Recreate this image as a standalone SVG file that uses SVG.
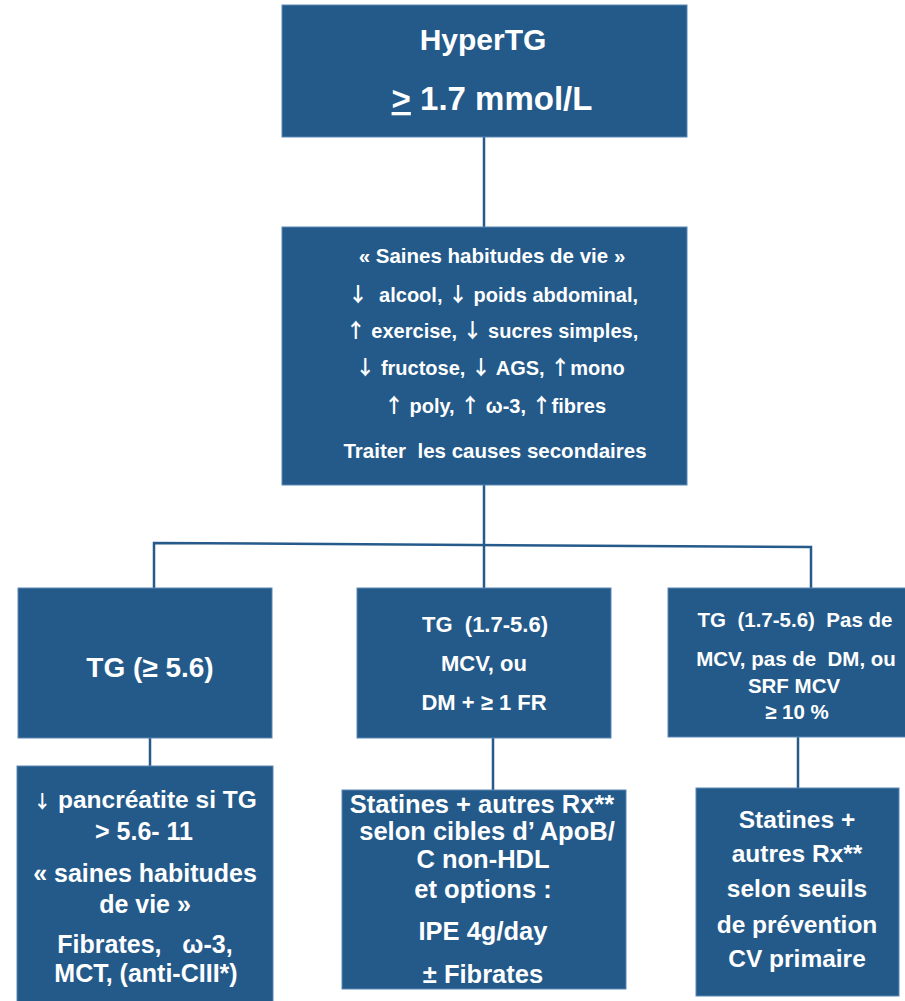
<svg xmlns="http://www.w3.org/2000/svg" width="905" height="1001" viewBox="0 0 905 1001">
<style>
.box{fill:#235a8a;stroke:#5b87b5;stroke-width:1}
.t{font-family:"Liberation Sans",Arial,sans-serif;font-weight:bold;fill:#ffffff;text-anchor:middle;white-space:pre}
.a{font-family:"Noto Sans CJK SC","DejaVu Sans",sans-serif;font-weight:bold}
.c{stroke:#255a8b;stroke-width:2.5;fill:none}
</style>
<rect width="905" height="1001" fill="#ffffff"/>
<g id="connectors">
<line class="c" x1="484" y1="137" x2="484" y2="228"/>
<line class="c" x1="484" y1="485" x2="484" y2="588"/>
<polyline class="c" points="154,588 154,543 811,547 811,588"/>
<line class="c" x1="150" y1="738" x2="150" y2="766"/>
<line class="c" x1="493" y1="738" x2="493" y2="790"/>
<line class="c" x1="798" y1="737" x2="798" y2="788"/>
</g>
<g id="n-hypertg">
<rect class="box" x="282" y="5" width="405" height="132"/>
<text class="t" x="483" y="50" font-size="30">HyperTG</text>
<text class="t" x="492" y="110" font-size="33"><tspan style="text-decoration:underline">&gt;</tspan> 1.7 mmol/L</text>
</g>
<g id="n-habitudes">
<rect class="box" x="282" y="227" width="405" height="258"/>
<text class="t" font-size="20.5" x="492" y="263">« Saines habitudes de vie »</text>
<text class="t" font-size="20" x="493" y="302"><tspan class="a">↓</tspan>  alcool, <tspan class="a">↓</tspan> poids abdominal,</text>
<text class="t" font-size="20" x="492" y="338"><tspan class="a">↑</tspan> exercise, <tspan class="a">↓</tspan> sucres simples,</text>
<text class="t" font-size="20" x="490" y="375"><tspan class="a">↓</tspan> fructose, <tspan class="a">↓</tspan> AGS, <tspan class="a">↑</tspan>mono</text>
<text class="t" font-size="20" x="495" y="413"><tspan class="a">↑</tspan> poly, <tspan class="a">↑</tspan> ω-3, <tspan class="a">↑</tspan>fibres</text>
<text class="t" font-size="20.5" x="495" y="458">Traiter  les causes secondaires</text>
</g>
<g id="n-tg-high">
<rect class="box" x="18" y="588" width="254" height="150"/>
<text class="t" font-size="28" x="150" y="677">TG (≥ 5.6)</text>
</g>
<g id="n-tg-mcv">
<rect class="box" x="357" y="588" width="254" height="150"/>
<text class="t" font-size="22" x="485" y="632">TG  (1.7-5.6)</text>
<text class="t" font-size="22" x="484" y="671">MCV, ou</text>
<text class="t" font-size="22" x="484" y="710">DM + ≥ 1 FR</text>
</g>
<g id="n-tg-nomcv">
<rect class="box" x="668" y="588" width="256" height="149"/>
<text class="t" font-size="20.5" x="795" y="627">TG  (1.7-5.6)  Pas de</text>
<text class="t" font-size="20.5" x="796" y="666">MCV, pas de  DM, ou</text>
<text class="t" font-size="20.5" x="794" y="693">SRF MCV</text>
<text class="t" font-size="20.5" x="797" y="719">≥ 10 %</text>
</g>
<g id="n-pancreatite">
<rect class="box" x="17" y="766" width="256" height="250"/>
<text class="t" font-size="24.5" x="145" y="808"><tspan class="a" font-size="18">↓</tspan> pancréatite si TG</text>
<text class="t" font-size="25" x="144" y="840">&gt; 5.6- 11</text>
<text class="t" font-size="25" x="145" y="882">« saines habitudes</text>
<text class="t" font-size="25" x="145" y="913">de vie »</text>
<text class="t" font-size="25" x="145" y="953">Fibrates,   ω-3,</text>
<text class="t" font-size="25" x="146" y="982">MCT, (anti-CIII*)</text>
</g>
<g id="n-statines-cibles">
<rect class="box" x="342" y="790" width="284" height="199"/>
<text class="t" font-size="25.5" x="482" y="813">Statines + autres Rx**</text>
<text class="t" font-size="25.5" x="487" y="840">selon cibles d’ ApoB/</text>
<text class="t" font-size="25.5" x="483" y="868">C non-HDL</text>
<text class="t" font-size="25.5" x="483" y="898">et options :</text>
<text class="t" font-size="25.5" x="483" y="940">IPE 4g/day</text>
<text class="t" font-size="25.5" x="483" y="983">± Fibrates</text>
</g>
<g id="n-statines-seuils">
<rect class="box" x="696" y="788" width="203" height="208"/>
<text class="t" font-size="24.5" x="797" y="828">Statines +</text>
<text class="t" font-size="24.5" x="797" y="862">autres Rx**</text>
<text class="t" font-size="24.5" x="797" y="897">selon seuils</text>
<text class="t" font-size="24.5" x="797" y="933">de prévention</text>
<text class="t" font-size="24.5" x="797" y="967">CV primaire</text>
</g>
</svg>
